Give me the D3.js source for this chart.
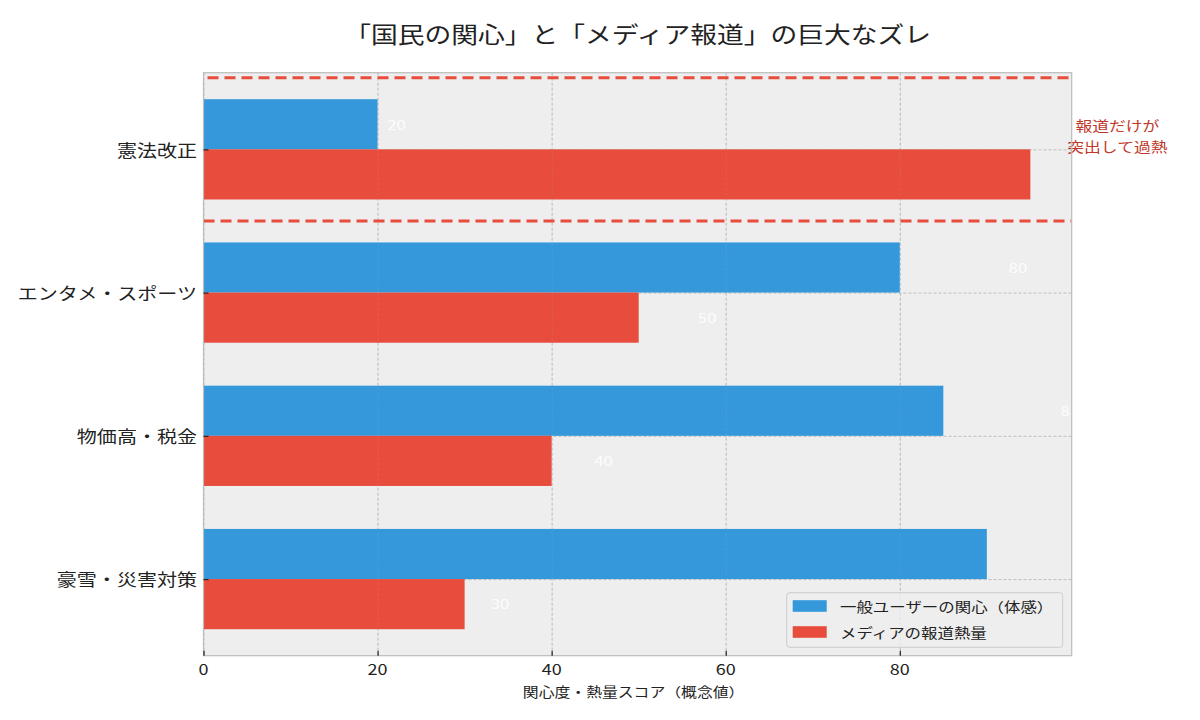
<!DOCTYPE html>
<html>
<head>
<meta charset="utf-8">
<script src="https://cdn.jsdelivr.net/npm/d3@7"></script>
<style>
  body { margin: 0; background: #fff; }
  text { font-family: "Noto Sans CJK JP", "Noto Sans", sans-serif; }
</style>
</head>
<body>
<svg width="1200" height="720"></svg>
<script>
// データ
const categories = ['憲法改正', 'エンタメ・スポーツ', '物価高・税金', '豪雪・災害対策'];
const userInterest = [20, 80, 85, 90];
const mediaHeat = [95, 50, 40, 30];
const xTicks = [0, 20, 40, 60, 80];
const seriesNames = ['一般ユーザーの関心（体感）', 'メディアの報道熱量'];
const colors = ['#3498db', '#e74c3c'];

const svg = d3.select('svg');
const SX = 1.2; // 横に少し伸びた文字
const m = { left: 203.5, right: 1071.7, top: 72.7, bottom: 655.7 };
const n = categories.length;
const barH = 0.35;
const pos = i => n - 1 - i; // 上から順に並べる

const x = d3.scaleLinear()
  .domain([0, d3.max(userInterest.concat(mediaHeat)) * 1.05])
  .range([m.left, m.right]);

const pad = 0.05 * (n - 1 + 2 * barH);
const y = d3.scaleLinear()
  .domain([-barH - pad, n - 1 + barH + pad])
  .range([m.bottom, m.top]);

function label(g, px, py, str, size, anchor, fill) {
  return g.append('text')
    .attr('transform', `translate(${px},${py}) scale(${SX},1)`)
    .attr('text-anchor', anchor)
    .attr('dominant-baseline', 'central')
    .attr('font-size', size)
    .attr('fill', fill)
    .text(str);
}

svg.append('defs').append('clipPath').attr('id', 'plot')
  .append('rect')
  .attr('x', m.left).attr('y', m.top)
  .attr('width', m.right - m.left).attr('height', m.bottom - m.top);

// 背景
svg.append('rect')
  .attr('x', m.left).attr('y', m.top)
  .attr('width', m.right - m.left).attr('height', m.bottom - m.top)
  .attr('fill', '#eeeeee');

// グリッド
svg.append('g')
  .attr('transform', `translate(0,${m.bottom})`)
  .call(d3.axisBottom(x).tickValues(xTicks).tickSize(-(m.bottom - m.top)).tickFormat(''))
  .call(g => g.select('.domain').remove())
  .call(g => g.selectAll('line').attr('stroke', '#b2b2b2').attr('stroke-width', 0.8).attr('stroke-dasharray', '3,2'));

svg.append('g')
  .attr('transform', `translate(${m.left},0)`)
  .call(d3.axisLeft(y).tickValues(d3.range(n)).tickSize(-(m.right - m.left)).tickFormat(''))
  .call(g => g.select('.domain').remove())
  .call(g => g.selectAll('line').attr('stroke', '#b2b2b2').attr('stroke-width', 0.8).attr('stroke-dasharray', '3,2'));

// 棒
const plot = svg.append('g').attr('clip-path', 'url(#plot)');

plot.selectAll('.user').data(userInterest).join('rect')
  .attr('x', x(0))
  .attr('y', (d, i) => y(pos(i) + barH))
  .attr('width', d => x(d) - x(0))
  .attr('height', (d, i) => y(pos(i)) - y(pos(i) + barH))
  .attr('fill', colors[0]);

plot.selectAll('.media').data(mediaHeat).join('rect')
  .attr('x', x(0))
  .attr('y', (d, i) => y(pos(i)))
  .attr('width', d => x(d) - x(0))
  .attr('height', (d, i) => y(pos(i) - barH) - y(pos(i)))
  .attr('fill', colors[1]);

// 棒の上に薄くグリッドを重ねる
svg.append('g')
  .attr('transform', `translate(0,${m.bottom})`)
  .call(d3.axisBottom(x).tickValues(xTicks.slice(1)).tickSize(-(m.bottom - m.top)).tickFormat(''))
  .call(g => g.select('.domain').remove())
  .call(g => g.selectAll('line').attr('stroke', '#b2b2b2').attr('stroke-opacity', 0.25).attr('stroke-width', 0.8).attr('stroke-dasharray', '3,2'));

// 値ラベル
userInterest.forEach((d, i) => {
  label(plot, x(d * 1.19 - 1.63), y(pos(i) + barH / 2) - 1, d, 14, 'middle', '#ffffff').attr('fill-opacity', 0.9);
});
mediaHeat.forEach((d, i) => {
  label(plot, x(d * 1.19 - 1.63), y(pos(i) - barH / 2) - 1, d, 14, 'middle', '#ffffff').attr('fill-opacity', 0.9);
});

// 強調の破線
[n - 0.5, n - 1.5].forEach((v, k) => {
  svg.append('line')
    .attr('x1', m.left + (k === 0 ? 4 : 0)).attr('x2', m.right)
    .attr('y1', y(v)).attr('y2', y(v))
    .attr('stroke', '#e74c3c').attr('stroke-width', 3)
    .attr('stroke-dasharray', '11,6');
});

// 注記
const note = ['報道だけが', '突出して過熱'];
note.forEach((t, k) => {
  label(svg, x(105), y(3.1) + (k - 0.5) * 20.6, t, 14, 'middle', '#c0392b');
});

// 枠
svg.append('rect')
  .attr('x', m.left).attr('y', m.top)
  .attr('width', m.right - m.left).attr('height', m.bottom - m.top)
  .attr('fill', 'none').attr('stroke', '#bcbcbc').attr('stroke-width', 1.2);

// 軸
const xAxis = svg.append('g')
  .attr('transform', `translate(0,${m.bottom})`)
  .call(d3.axisBottom(x).tickValues(xTicks).tickSize(-5).tickFormat(d3.format('d')));
xAxis.select('.domain').remove();
xAxis.selectAll('line').attr('stroke', '#222').attr('stroke-width', 1.2);
xAxis.selectAll('text').remove();
xTicks.forEach(t => label(svg, x(t), m.bottom + 13, t, 15, 'middle', '#222'));

const yAxis = svg.append('g')
  .attr('transform', `translate(${m.left},0)`)
  .call(d3.axisLeft(y).tickValues(d3.range(n)).tickSize(-5).tickFormat(''));
yAxis.select('.domain').remove();
yAxis.selectAll('line').attr('stroke', '#222').attr('stroke-width', 1.2);
categories.forEach((c, i) => label(svg, m.left - 6.5, y(pos(i)), c, 16.7, 'end', '#222'));

// タイトルと軸ラベル
const cx = (m.left + m.right) / 2;
label(svg, cx, 33, '「国民の関心」と「メディア報道」の巨大なズレ', 22.3, 'middle', '#222');
label(svg, cx - 4, 691, '関心度・熱量スコア（概念値）', 13.2, 'middle', '#222');

// 凡例
const lg = svg.append('g');
lg.append('rect')
  .attr('x', 786.7).attr('y', 592.7).attr('width', 276).attr('height', 54.6)
  .attr('rx', 3).attr('fill', '#eeeeee').attr('fill-opacity', 0.8)
  .attr('stroke', '#cccccc').attr('stroke-width', 1);
seriesNames.forEach((s, k) => {
  const cy = 606 + k * 26;
  lg.append('rect')
    .attr('x', 792.7).attr('y', cy - 5.8).attr('width', 34).attr('height', 11.6)
    .attr('fill', colors[k]);
  label(lg, 840, cy, s, 13.7, 'start', '#222');
});
</script>
</body>
</html>
